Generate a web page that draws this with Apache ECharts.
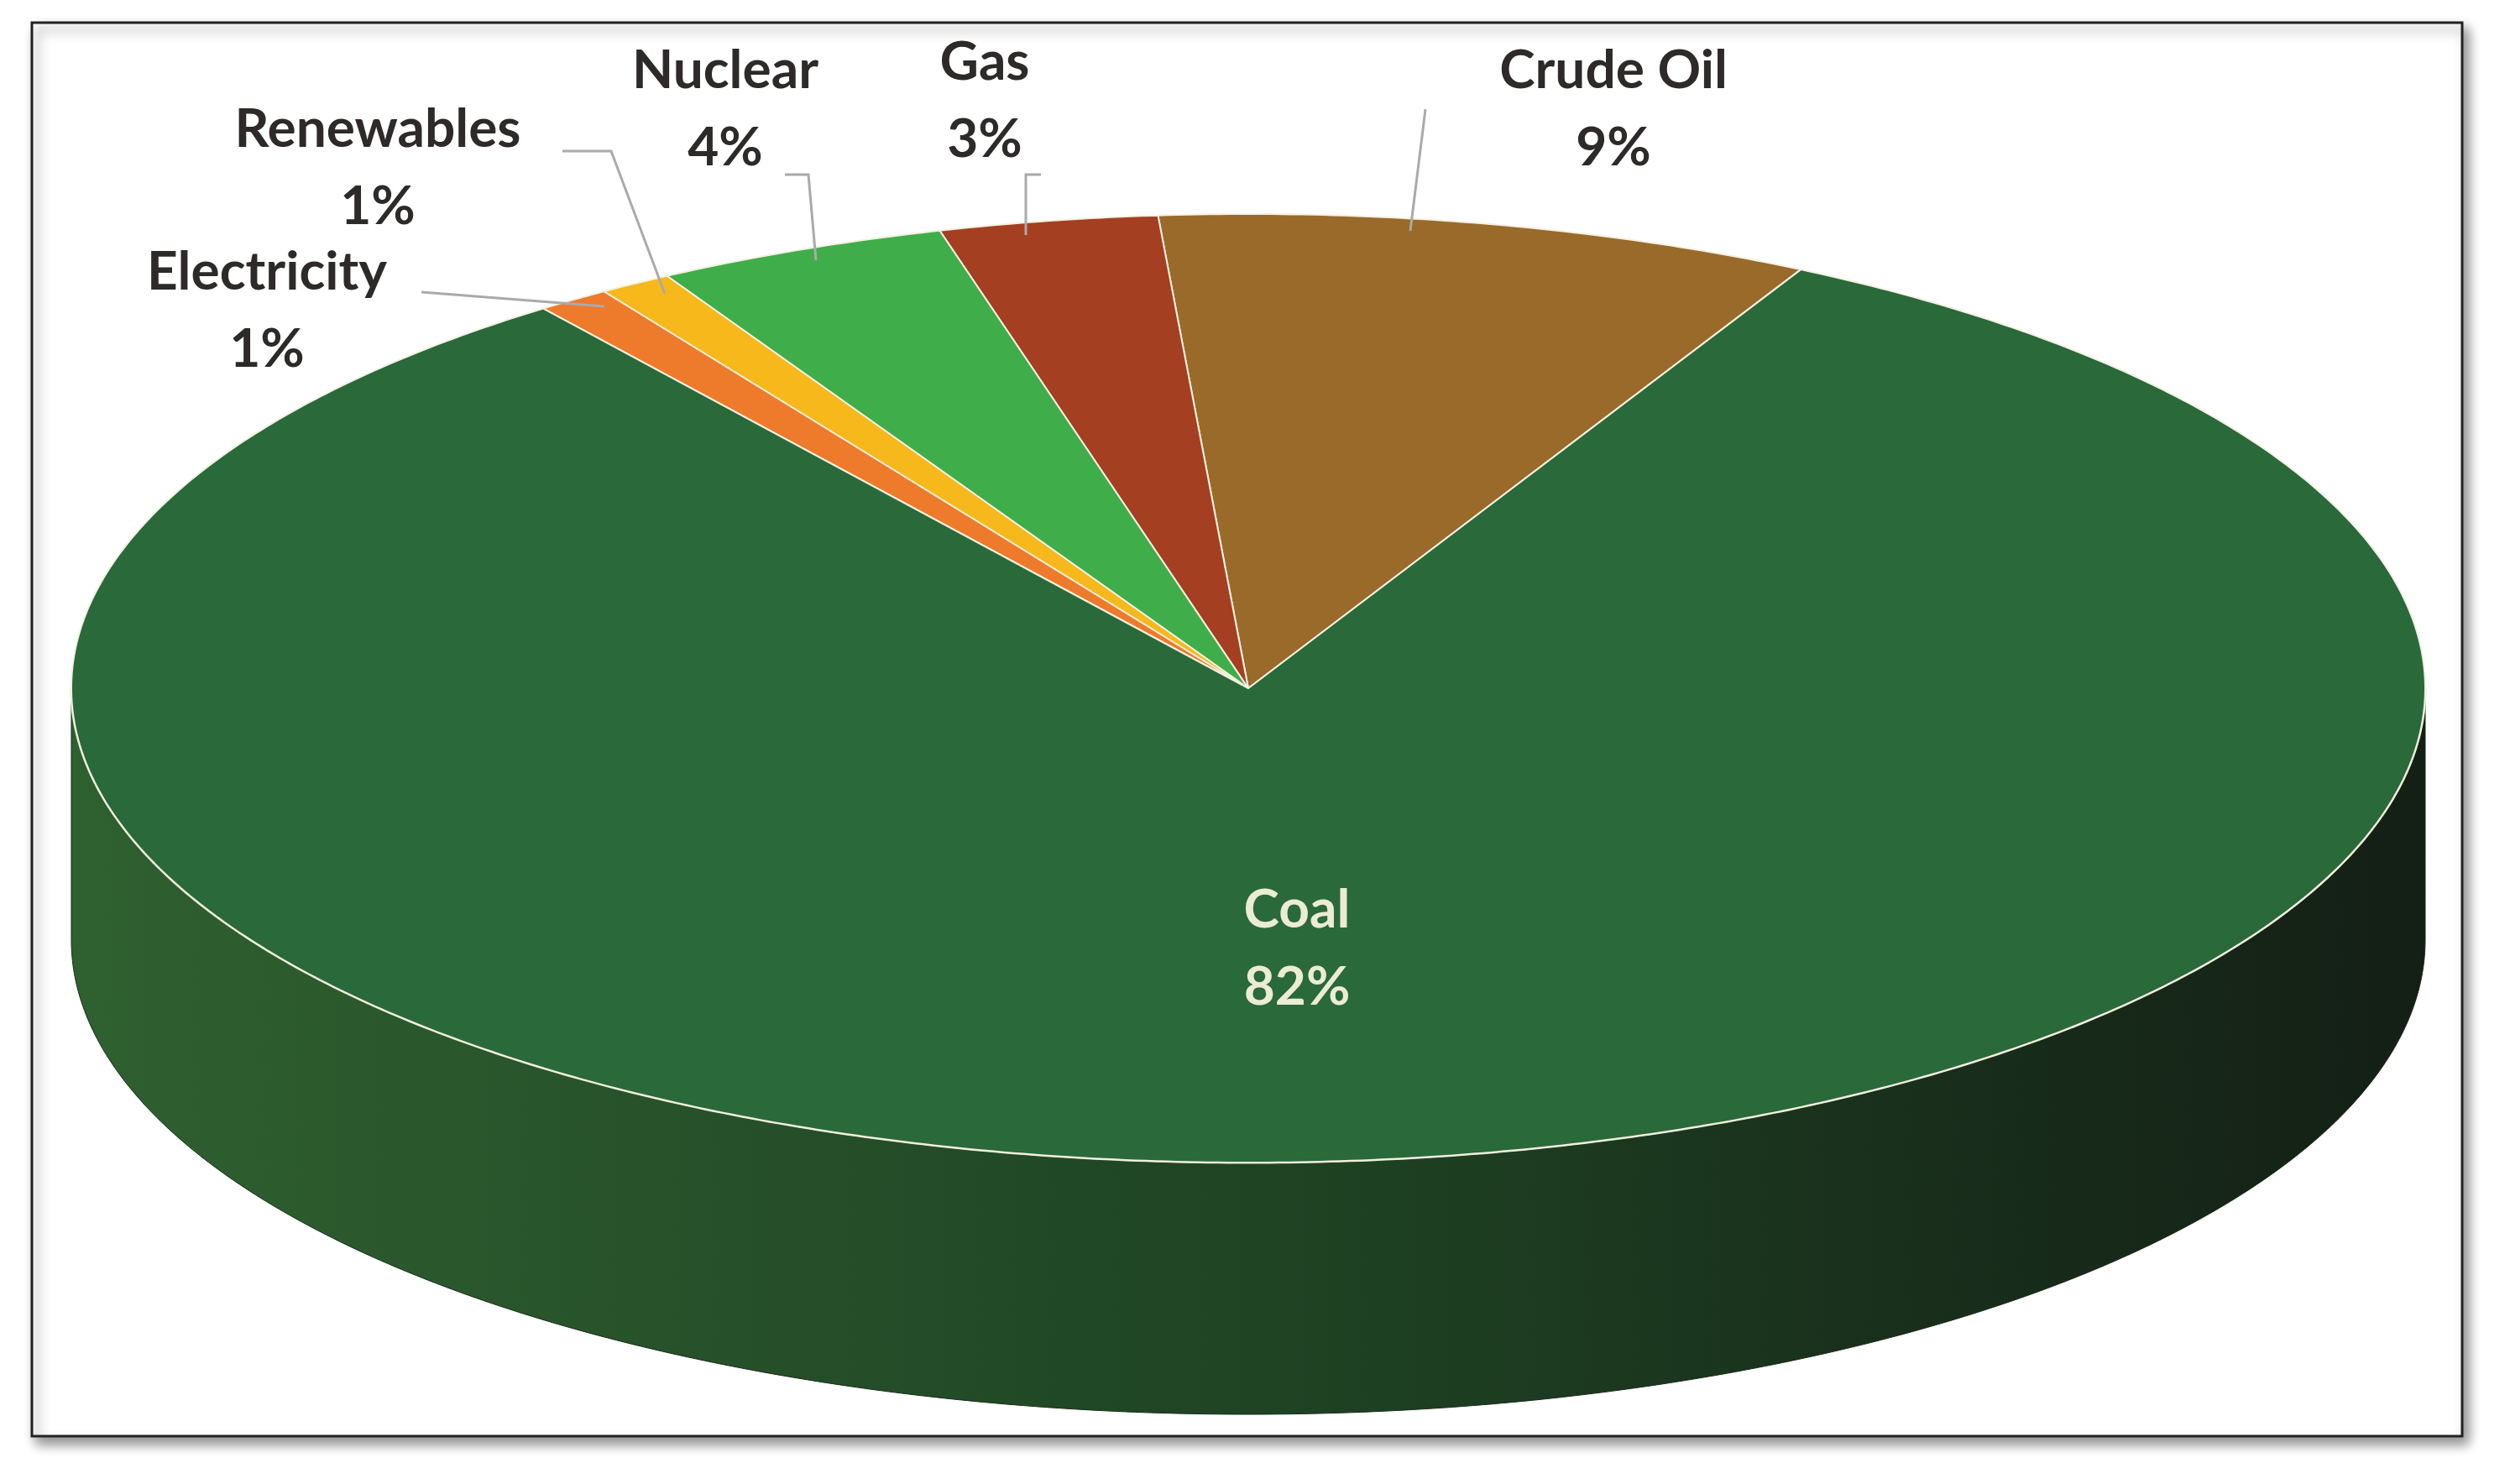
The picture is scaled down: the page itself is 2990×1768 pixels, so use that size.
<!DOCTYPE html>
<html><head><meta charset="utf-8">
<script src="https://cdn.jsdelivr.net/npm/echarts@6/dist/echarts.min.js"></script>
<style>html,body{margin:0;background:#fff}#c{width:2990px;height:1768px}</style>
</head><body><div id="c"></div>
<script>
const categories = ['Crude Oil','Gas','Nuclear','Renewables','Electricity','Coal'];
const shares = [9,3,4,1,1,82];
const colors = ['#9a6a2b','#a53f22','#3fae4a','#f7b81c','#ee7a2c','#29693a'];
// label layout (pixels): text anchor, leader line points
const labelLayout = [
  {x:1922,y:130,line:[[1680,275],[1698,130]]},
  {x:1173,y:120,line:[[1222,280],[1222,208],[1240,208]]},
  {x:864,y:130,line:[[972,310],[963,208],[935,208]]},
  {x:450,y:200,line:[[792,350],[728,180],[670,180]]},
  {x:318,y:370,line:[[720,365],[502,348]]},
  {x:1545,y:1130,line:null}
];
const CX=1487, CY=820, RX=1402, RY=565, DEPTH=300, START=-62;
const total = shares.reduce((a,b)=>a+b,0);
function pt(t,dy){const r=t*Math.PI/180;return [CX+RX*Math.cos(r), CY+RY*Math.sin(r)+(dy||0)];}
const chart = echarts.init(document.getElementById('c'));
chart.setOption({
  animation:false,
  graphic:[{type:'rect',z:-10,shape:{x:38,y:27,width:2895,height:1684},
    style:{fill:'#fff',stroke:'#222',lineWidth:3,shadowBlur:14,shadowOffsetX:6,shadowOffsetY:8,shadowColor:'rgba(0,0,0,0.45)'}}],
  series:[{
    type:'custom', coordinateSystem:'none',
    data: shares.map((v,i)=>({value:[v,i],name:categories[i]})),
    renderItem:function(params,api){
      const i=params.dataIndex;
      let before=0; for(let k=0;k<i;k++) before+=shares[k];
      const a1=START-before/total*360, a0=a1-shares[i]/total*360;
      const children=[];
      for(const off of [-360,0,360]){
        const s=Math.max(a0,0+off), e=Math.min(a1,180+off);
        if(e>s){
          const pts=[];
          for(let t=s;t<=e+1e-6;t+=0.5) pts.push(pt(t,0));
          for(let t=e;t>=s-1e-6;t-=0.5) pts.push(pt(t,DEPTH));
          children.push({type:'polygon',shape:{points:pts},style:{
            fill:new echarts.graphic.LinearGradient(0,0,1,0,[{offset:0,color:'#2f6030'},{offset:0.5,color:'#1f4424'},{offset:1,color:'#141f15'}]),
            stroke:'#1a2a1a',lineWidth:1}});
          const edge=[];for(let t=s;t<=e+1e-6;t+=0.5) edge.push(pt(t,0));
          children.push({type:'polyline',shape:{points:edge},style:{stroke:'#dfe8c8',lineWidth:3,fill:null}});
        }
      }
      const top=[[CX,CY]];
      for(let t=a0;t<=a1+1e-6;t+=0.5) top.push(pt(t,0));
      top.push(pt(a1,0));
      children.push({type:'polygon',shape:{points:top},style:{fill:colors[i],stroke:'#f4f0e0',lineWidth:2}});
      const L=labelLayout[i];
      if(L.line) children.push({type:'polyline',z2:5,shape:{points:L.line},style:{stroke:'#aaa',lineWidth:3,fill:null}});
      const isCoal=categories[i]==='Coal';
      children.push({type:'text',z2:10,style:{x:L.x,y:L.y,text:categories[i]+'\n'+Math.round(shares[i]/total*100)+'%',
        align:'center',verticalAlign:'middle',font:'bold 64px Lato',lineHeight:92,fill:isCoal?'#ecebd4':'#2e2a2a'}});
      return {type:'group',children};
    }
  }]
});
</script></body></html>
